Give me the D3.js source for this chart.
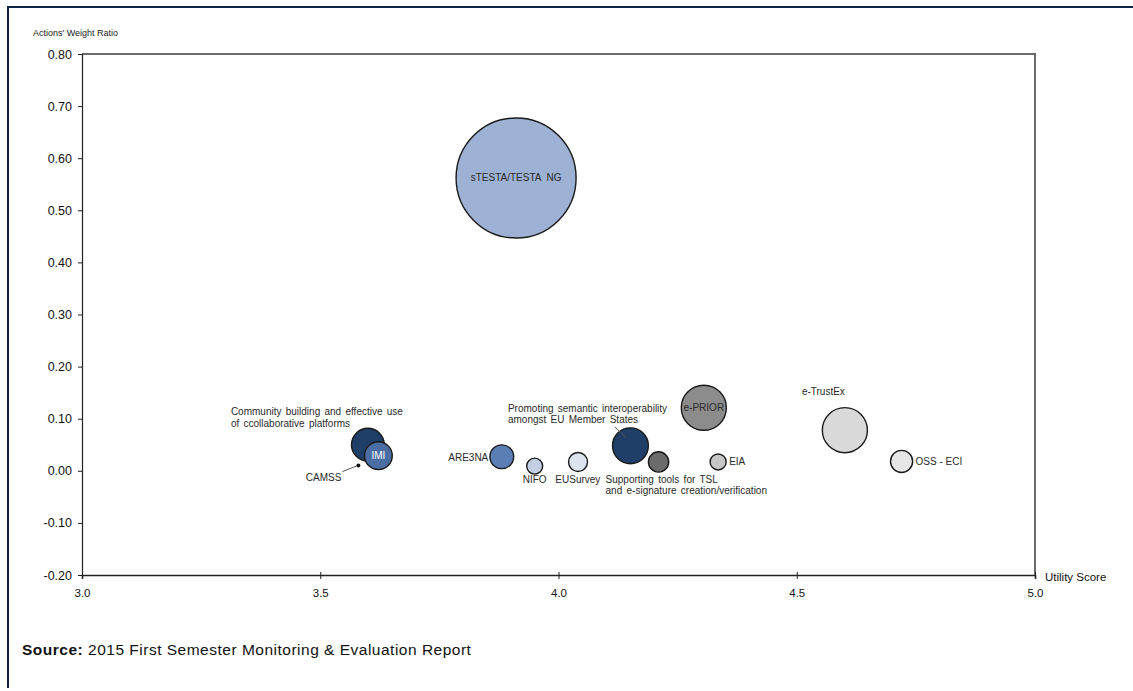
<!DOCTYPE html>
<html>
<head>
<meta charset="utf-8">
<script src="https://cdn.jsdelivr.net/npm/d3@7"></script>
<style>
  html, body { margin: 0; padding: 0; background: #fff; }
  svg { display: block; font-family: "Liberation Sans", Arial, sans-serif; }
  text { white-space: pre; }
</style>
</head>
<body>
<svg id="chart" width="1133" height="691"></svg>
<script>
// ---- data ----
const names = ["sTESTA/TESTA  NG", "Community building", "IMI", "CAMSS", "ARE3NA", "NIFO", "EUSurvey",
               "Promoting semantic", "Supporting tools", "e-PRIOR", "EIA", "e-TrustEx", "OSS - ECI"];
const utilityScore = [3.911, 3.600, 3.622, 3.580, 3.881, 3.950, 4.041, 4.151, 4.210, 4.305, 4.335, 4.601, 4.720];
const weightRatio  = [0.562, 0.050, 0.029, 0.010, 0.027, 0.009, 0.017, 0.048, 0.017, 0.121, 0.017, 0.078, 0.018];
const bubbleSize   = [0.56, 0.042, 0.030, 0.0006, 0.022, 0.010, 0.014, 0.050, 0.016, 0.079, 0.010, 0.079, 0.019];
const xTicks = [3.0, 3.5, 4.0, 4.5, 5.0];
const yTicks = [-0.20, -0.10, 0.00, 0.10, 0.20, 0.30, 0.40, 0.50, 0.60, 0.70, 0.80];

// ---- styles ----
const fills = ["#9cb1d3", "#1f3e68", "#4a6da3", "#111111", "#5b7eb5", "#c3cee3", "#dde3ef",
               "#1f3e68", "#6b6b6b", "#8c8c8c", "#c6c6c6", "#d9d9d9", "#e6e6e6"];
// label layout (relative offsets to bubble centre, px)
const labelCfg = {
  "sTESTA/TESTA  NG": {lines: ["sTESTA/TESTA  NG"], dx: 0, dy: 3.5, anchor: "middle"},
  "Community building": {lines: ["Community building and effective use", "of ccollaborative platforms"], dx: -137, dy: -29.5, anchor: "start"},
  "IMI": {lines: ["IMI"], dx: 0, dy: 3.5, anchor: "middle", color: "#ffffff"},
  "CAMSS": {lines: ["CAMSS"], dx: -17, dy: 15.5, anchor: "end", leader: [-16, 6, -2, 0.5]},
  "ARE3NA": {lines: ["ARE3NA"], dx: -13.5, dy: 4, anchor: "end"},
  "NIFO": {lines: ["NIFO"], dx: -12, dy: 17, anchor: "start"},
  "EUSurvey": {lines: ["EUSurvey"], dx: -22.7, dy: 21, anchor: "start"},
  "Promoting semantic": {lines: ["Promoting semantic interoperability", "amongst EU Member States"], dx: -122.5, dy: -34, anchor: "start", leader: [-15.5, -19, -5, -8.5]},
  "Supporting tools": {lines: ["Supporting tools for TSL", "and e-signature creation/verification"], dx: -53, dy: 21, anchor: "start"},
  "e-PRIOR": {lines: ["e-PRIOR"], dx: 0, dy: 3.5, anchor: "middle"},
  "EIA": {lines: ["EIA"], dx: 11, dy: 3.5, anchor: "start"},
  "e-TrustEx": {lines: ["e-TrustEx"], dx: -43, dy: -35, anchor: "start"},
  "OSS - ECI": {lines: ["OSS - ECI"], dx: 14, dy: 4, anchor: "start"}
};

const svg = d3.select("#chart");
const M = {left: 82, right: 1035, top: 54, bottom: 575};

const x = d3.scaleLinear().domain([3, 5]).range([M.left, M.right]);
const y = d3.scaleLinear().domain([-0.2, 0.8]).range([M.bottom, M.top]);
const r = d3.scaleSqrt().domain([0, d3.max(bubbleSize)]).range([0, 60]);

// outer border (top & left)
svg.append("line").attr("x1", 7).attr("x2", 1133).attr("y1", 7).attr("y2", 7)
  .attr("stroke", "#0c2344").attr("stroke-width", 2);
svg.append("line").attr("x1", 8).attr("x2", 8).attr("y1", 6).attr("y2", 688)
  .attr("stroke", "#0c2344").attr("stroke-width", 2);

// frame top/right (grey)
svg.append("path")
  .attr("d", `M${M.left},${M.top}H${M.right}V${M.bottom}`)
  .attr("fill", "none").attr("stroke", "#6a6a6a").attr("stroke-width", 2);

const hy = v => d3.format(".2f")(v).replace("\u2212", "-");

// y axis
const yAxis = d3.axisLeft(y).tickValues(yTicks).tickFormat(hy).tickSize(4).tickPadding(6);
const gy = svg.append("g").attr("transform", `translate(${M.left},0)`).call(yAxis);
gy.select(".domain").attr("stroke", "#222").attr("stroke-width", 1.2);
gy.selectAll(".tick line").attr("stroke", "#222");
gy.selectAll(".tick text").attr("font-size", 12.5).attr("fill", "#111")
  .attr("font-family", "Liberation Sans, Arial, sans-serif");

// x axis
const xAxis = d3.axisBottom(x).tickValues(xTicks).tickFormat(d3.format(".1f")).tickSize(4).tickPadding(10);
const gx = svg.append("g").attr("transform", `translate(0,${M.bottom})`).call(xAxis);
gx.select(".domain").attr("stroke", "#222").attr("stroke-width", 1.6);
gx.selectAll(".tick line").attr("stroke", "#222").attr("y1", -3);
gx.selectAll(".tick text").attr("font-size", 11.5).attr("fill", "#111")
  .attr("font-family", "Liberation Sans, Arial, sans-serif");

// axis titles
svg.append("text").attr("x", 33).attr("y", 36).attr("font-size", 9).attr("fill", "#222")
  .text("Actions' Weight Ratio");
svg.append("text").attr("x", 1045).attr("y", 580.5).attr("font-size", 11.5).attr("fill", "#111")
  .text("Utility Score");

// bubbles
const data = names.map((n, i) => ({name: n, u: utilityScore[i], w: weightRatio[i], s: bubbleSize[i], fill: fills[i]}));
svg.append("g").selectAll("circle").data(data).join("circle")
  .attr("cx", d => x(d.u)).attr("cy", d => y(d.w))
  .attr("r", d => Math.max(r(d.s), 2))
  .attr("fill", d => d.fill)
  .attr("stroke", d => d.name === "CAMSS" ? "none" : "#1a1a1a")
  .attr("stroke-width", 1.4);

// labels
const lg = svg.append("g");
data.forEach(d => {
  const c = labelCfg[d.name];
  const cx = x(d.u), cy = y(d.w);
  if (c.leader) {
    lg.append("line")
      .attr("x1", cx + c.leader[0]).attr("y1", cy + c.leader[1])
      .attr("x2", cx + c.leader[2]).attr("y2", cy + c.leader[3])
      .attr("stroke", "#555").attr("stroke-width", 1);
  }
  c.lines.forEach((t, j) => {
    lg.append("text")
      .attr("x", cx + c.dx).attr("y", cy + c.dy + j * 11.5)
      .attr("text-anchor", c.anchor)
      .attr("font-size", 10)
      .attr("word-spacing", c.lines.length > 1 ? 1.5 : 0)
      .attr("fill", c.color || "#2a2a2a")
      .text(t);
  });
});

// source
const src = svg.append("text").attr("x", 22).attr("y", 655).attr("font-size", 15.5)
  .attr("letter-spacing", 0.5).attr("fill", "#111");
src.append("tspan").attr("font-weight", "bold").text("Source:");
src.append("tspan").text(" 2015 First Semester Monitoring & Evaluation Report");
</script>
</body>
</html>
